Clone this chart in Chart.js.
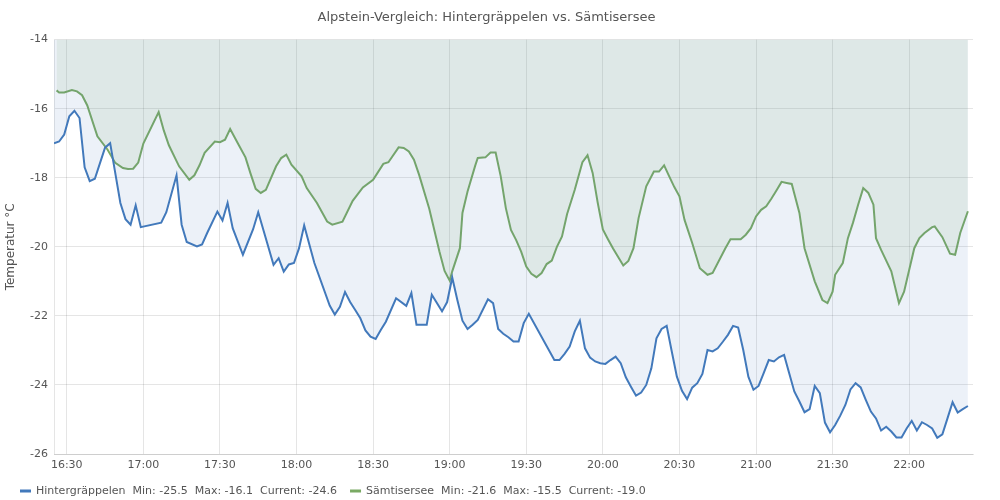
<!DOCTYPE html>
<html>
<head>
<meta charset="utf-8">
<script src="https://cdn.jsdelivr.net/npm/chart.js@4.4.0/dist/chart.umd.min.js"></script>
<style>
body { margin: 0; background: #fff; }
#wrap { width: 1000px; height: 500px; }
</style>
</head>
<body>
<div id="wrap"><canvas id="chart"></canvas></div>
<script>
var tickLabels = ["16:30", "17:00", "17:30", "18:00", "18:30", "19:00", "19:30", "20:00", "20:30", "21:00", "21:30", "22:00"];

var blueTimes = ["16:25","16:27","16:29","16:31","16:33","16:35","16:37","16:39","16:41","16:45","16:47","16:51","16:53","16:55","16:57","16:59",
  "17:07","17:09","17:13","17:15","17:17","17:21","17:23","17:25","17:29","17:31","17:33","17:35","17:39","17:43","17:45","17:51","17:53","17:55","17:57","17:59",
  "18:01","18:03","18:07","18:13","18:15","18:17","18:19","18:21","18:23","18:25","18:27","18:29","18:31","18:33","18:35","18:39","18:43","18:45","18:47","18:51","18:53","18:57","18:59",
  "19:01","19:03","19:05","19:07","19:09","19:11","19:15","19:17","19:19","19:21","19:23","19:25","19:27","19:29","19:31","19:41","19:43","19:45","19:47","19:49","19:51","19:53","19:55","19:57","19:59",
  "20:01","20:03","20:05","20:07","20:09","20:11","20:13","20:15","20:17","20:19","20:21","20:23","20:25","20:27","20:29","20:31","20:33","20:35","20:37","20:39","20:41","20:43","20:45","20:47","20:49","20:51","20:53","20:55","20:57","20:59",
  "21:01","21:03","21:05","21:07","21:09","21:11","21:13","21:15","21:17","21:19","21:21","21:23","21:25","21:27","21:29","21:31","21:33","21:35","21:37","21:39","21:41","21:43","21:45","21:47","21:49","21:51","21:53","21:55","21:57","21:59",
  "22:01","22:03","22:05","22:07","22:09","22:11","22:13","22:15","22:17","22:19","22:21","22:23"];
var blueTemps = [-17.0,-16.95,-16.75,-16.22,-16.06,-16.27,-17.7,-18.1,-18.03,-17.13,-17.0,-18.73,-19.2,-19.36,-18.8,-19.43,
  -19.3,-19.0,-17.93,-19.36,-19.86,-19.99,-19.93,-19.6,-18.98,-19.24,-18.73,-19.46,-20.23,-19.49,-19.0,-20.52,-20.33,-20.72,-20.51,-20.47,
  -20.04,-19.38,-20.47,-21.7,-21.96,-21.74,-21.31,-21.6,-21.83,-22.07,-22.42,-22.6,-22.67,-22.41,-22.17,-21.49,-21.71,-21.34,-22.26,-22.26,-21.39,-21.87,-21.6,
  -20.89,-21.54,-22.14,-22.38,-22.26,-22.12,-21.52,-21.63,-22.38,-22.52,-22.62,-22.74,-22.74,-22.21,-21.94,-23.28,-23.28,-23.1,-22.89,-22.45,-22.14,-22.94,-23.21,-23.32,-23.37,
  -23.39,-23.28,-23.18,-23.37,-23.78,-24.05,-24.31,-24.22,-24.0,-23.52,-22.65,-22.38,-22.29,-23.03,-23.76,-24.17,-24.41,-24.08,-23.95,-23.68,-22.99,-23.03,-22.94,-22.75,-22.55,-22.29,-22.34,-22.99,-23.76,-24.14,
  -24.03,-23.66,-23.28,-23.32,-23.2,-23.13,-23.66,-24.19,-24.48,-24.79,-24.7,-24.03,-24.24,-25.09,-25.37,-25.16,-24.89,-24.58,-24.13,-23.95,-24.07,-24.43,-24.77,-24.97,-25.32,-25.21,-25.35,-25.52,-25.52,-25.26,
  -25.04,-25.32,-25.08,-25.16,-25.26,-25.53,-25.43,-24.97,-24.5,-24.8,-24.7,-24.61];

var greenTimes = ["16:26","16:27","16:29","16:32","16:34","16:36","16:38","16:42","16:46","16:49","16:52","16:54","16:56","16:58",
  "17:00","17:06","17:08","17:10","17:14","17:18","17:20","17:22","17:24","17:28","17:30","17:32","17:34","17:37","17:40","17:42","17:44","17:46","17:48","17:52","17:54","17:56","17:58",
  "18:02","18:04","18:08","18:12","18:14","18:18","18:22","18:26","18:30","18:34","18:36","18:40","18:42","18:44","18:46","18:48","18:52","18:56","18:58",
  "19:00","19:01","19:04","19:05","19:07","19:10","19:11","19:14","19:16","19:18","19:20","19:22","19:24","19:26","19:28","19:30","19:32","19:34","19:36","19:38","19:40","19:42","19:44","19:46","19:49","19:52","19:54","19:56","19:58",
  "20:00","20:02","20:04","20:08","20:10","20:12","20:14","20:17","20:20","20:22","20:24","20:26","20:28","20:30","20:32","20:35","20:38","20:41","20:43","20:48","20:50","20:54","20:56","20:58",
  "21:00","21:02","21:04","21:06","21:08","21:10","21:12","21:14","21:17","21:19","21:23","21:26","21:28","21:30","21:31","21:34","21:36","21:38","21:40","21:42","21:44","21:46","21:47","21:49","21:53","21:56","21:58",
  "22:02","22:04","22:06","22:09","22:10","22:13","22:16","22:18","22:20","22:23"];
var greenTemps = [-15.47,-15.53,-15.53,-15.46,-15.5,-15.61,-15.9,-16.8,-17.19,-17.57,-17.72,-17.75,-17.74,-17.56,
  -17.01,-16.1,-16.63,-17.06,-17.67,-18.06,-17.93,-17.64,-17.28,-16.95,-16.97,-16.9,-16.59,-17.0,-17.41,-17.88,-18.32,-18.44,-18.35,-17.67,-17.43,-17.33,-17.62,
  -17.96,-18.3,-18.73,-19.27,-19.36,-19.27,-18.67,-18.28,-18.06,-17.6,-17.55,-17.12,-17.14,-17.24,-17.48,-17.91,-18.9,-20.14,-20.7,
  -20.98,-20.71,-20.04,-19.02,-18.4,-17.65,-17.43,-17.41,-17.27,-17.27,-17.96,-18.88,-19.51,-19.8,-20.14,-20.57,-20.78,-20.88,-20.76,-20.5,-20.4,-20.0,-19.7,-19.05,-18.35,-17.55,-17.35,-17.86,-18.73,
  -19.5,-19.78,-20.05,-20.54,-20.41,-20.04,-19.17,-18.25,-17.82,-17.82,-17.64,-17.96,-18.27,-18.54,-19.22,-19.89,-20.62,-20.81,-20.76,-20.04,-19.78,-19.78,-19.65,-19.46,
  -19.12,-18.93,-18.83,-18.61,-18.37,-18.12,-18.15,-18.18,-19.02,-20.04,-21.0,-21.54,-21.63,-21.3,-20.81,-20.47,-19.75,-19.3,-18.78,-18.3,-18.44,-18.78,-19.75,-20.09,-20.71,-21.63,-21.3,
  -20.04,-19.75,-19.6,-19.43,-19.41,-19.72,-20.2,-20.23,-19.6,-18.97];

function toMin(t) {
  var p = t.split(':');
  return parseInt(p[0], 10) * 60 + parseInt(p[1], 10);
}
function fmtTime(m) {
  var h = Math.floor(m / 60), mm = m % 60;
  return h + ':' + (mm < 10 ? '0' : '') + mm;
}
function toPoints(times, temps) {
  return times.map(function (t, i) { return {x: toMin(t), y: temps[i]}; });
}
function legendText(name, temps) {
  var min = Math.min.apply(null, temps), max = Math.max.apply(null, temps);
  var cur = temps[temps.length - 1];
  return name + '  Min: ' + min.toFixed(1) + '  Max: ' + max.toFixed(1) + '  Current: ' + cur.toFixed(1);
}

Chart.defaults.font.family = '"DejaVu Sans", sans-serif';
Chart.defaults.color = '#555';

// legend drawn by hand so it sits at the very bottom like the original
var bottomLegend = {
  id: 'bottomLegend',
  afterDraw: function (chart) {
    var ctx = chart.ctx;
    var x = 20, y = 491;
    ctx.save();
    ctx.font = '11px "DejaVu Sans", sans-serif';
    ctx.textBaseline = 'middle';
    chart.data.datasets.forEach(function (ds) {
      ctx.fillStyle = ds.borderColor;
      ctx.fillRect(x, y - 1.5, 11, 3);
      ctx.fillStyle = '#555';
      ctx.fillText(ds.label, x + 16, y);
      x += 16 + ctx.measureText(ds.label).width + 13;
    });
    ctx.restore();
  }
};

var ctx = document.getElementById('chart').getContext('2d');
new Chart(ctx, {
  type: 'line',
  data: {
    datasets: [{
      label: legendText('Hintergräppelen', blueTemps),
      data: toPoints(blueTimes, blueTemps),
      borderColor: '#4279bb',
      backgroundColor: 'rgba(66,121,187,0.1)',
      borderWidth: 2,
      pointRadius: 0,
      tension: 0,
      fill: 'end'
    }, {
      label: legendText('Sämtisersee', greenTemps),
      data: toPoints(greenTimes, greenTemps),
      borderColor: '#7aaa64',
      backgroundColor: 'rgba(122,170,100,0.12)',
      borderWidth: 2,
      pointRadius: 0,
      tension: 0,
      fill: 'end'
    }]
  },
  options: {
    responsive: true,
    maintainAspectRatio: false,
    animation: false,
    layout: { padding: { right: 27, bottom: 22 } },
    plugins: {
      legend: { display: false },
      tooltip: { enabled: false },
      title: {
        display: true,
        text: 'Alpstein-Vergleich: Hintergräppelen vs. Sämtisersee',
        font: { size: 13, weight: 'normal' },
        color: '#555',
        padding: { top: 10, bottom: 14 }
      }
    },
    scales: {
      x: {
        type: 'linear',
        min: toMin('16:25'),
        max: toMin('22:25'),
        afterBuildTicks: function (scale) {
          scale.ticks = tickLabels.map(function (t) { return {value: toMin(t)}; });
        },
        afterFit: function (scale) { scale.height = 24; },
        ticks: {
          font: { size: 11 },
          padding: 5,
          maxRotation: 0,
          callback: function (v) { return fmtTime(v); }
        },
        grid: { drawTicks: false }
      },
      y: {
        min: -26,
        max: -14,
        afterFit: function (scale) { scale.width = 54; },
        ticks: { stepSize: 2, font: { size: 11 }, padding: 6 },
        grid: { drawTicks: false },
        title: { display: true, text: 'Temperatur °C', font: { size: 12 } }
      }
    }
  },
  plugins: [bottomLegend]
});
</script>
</body>
</html>
